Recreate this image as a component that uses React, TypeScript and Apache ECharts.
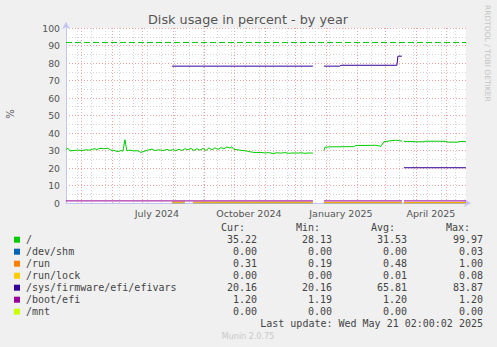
import React, { useEffect, useRef } from 'react';
import * as echarts from 'echarts';

const TITLE = 'Disk usage in percent - by year';
const Y_TITLE = '%';
const SIDE_TEXT = 'RRDTOOL / TOBI OETIKER';
const FOOTER = 'Munin 2.0.75';
const LAST_UPDATE = 'Last update: Wed May 21 02:00:02 2025';

const X_START = '2024-04-16T02:00:00Z';
const X_END = '2025-05-21T02:00:00Z';
const Y_MIN = 0;
const Y_MAX = 100;
const Y_STEP = 10;
const WARNING_LEVEL = 92;

const xLabelDates = ['2024-07-16', '2024-10-16', '2025-01-16', '2025-04-16'];
const xLabelTexts = ['July 2024', 'October 2024', 'January 2025', 'April 2025'];

const monthGridDates = [
  '2024-05-01', '2024-06-01', '2024-07-01', '2024-08-01', '2024-09-01', '2024-10-01',
  '2024-11-01', '2024-12-01', '2025-01-01', '2025-02-01', '2025-03-01', '2025-04-01', '2025-05-01',
];
const weekGridDates = [
  '2024-04-27', '2024-05-11', '2024-05-25', '2024-06-08', '2024-06-22', '2024-07-06', '2024-07-20',
  '2024-08-03', '2024-08-17', '2024-08-31', '2024-09-14', '2024-09-28', '2024-10-12', '2024-10-26',
  '2024-11-09', '2024-11-23', '2024-12-07', '2024-12-21', '2025-01-04', '2025-01-18', '2025-02-01',
  '2025-02-15', '2025-03-01', '2025-03-15', '2025-03-29', '2025-04-12', '2025-04-26', '2025-05-10',
];

type Pt = [string, number | null];

const rootData: Pt[] = [
  ['2024-04-16', 30.5], ['2024-04-18', 31.3], ['2024-04-20', 29.8], ['2024-04-24', 30.0],
  ['2024-04-28', 30.2], ['2024-05-02', 30.0], ['2024-05-06', 30.4], ['2024-05-10', 30.2],
  ['2024-05-14', 31.0], ['2024-05-17', 30.6], ['2024-05-20', 31.2], ['2024-05-24', 31.0],
  ['2024-05-28', 31.3], ['2024-05-31', 30.2], ['2024-06-03', 30.0], ['2024-06-07', 29.4],
  ['2024-06-10', 30.0], ['2024-06-12', 29.6], ['2024-06-14', 36.2], ['2024-06-16', 29.8],
  ['2024-06-18', 30.2], ['2024-06-23', 29.8], ['2024-06-27', 29.8], ['2024-06-30', 28.9],
  ['2024-07-03', 29.5], ['2024-07-07', 30.2], ['2024-07-11', 30.8], ['2024-07-14', 30.0],
  ['2024-07-18', 30.4], ['2024-07-22', 30.0], ['2024-07-26', 30.6], ['2024-07-29', 30.0],
  ['2024-08-01', 30.5], ['2024-08-04', 30.0], ['2024-08-07', 30.7], ['2024-08-10', 30.0],
  ['2024-08-13', 31.0], ['2024-08-16', 30.4], ['2024-08-19', 31.2], ['2024-08-22', 30.0],
  ['2024-08-25', 31.0], ['2024-08-28', 30.2], ['2024-08-31', 31.2], ['2024-09-03', 30.0],
  ['2024-09-06', 31.4], ['2024-09-09', 30.4], ['2024-09-12', 31.5], ['2024-09-15', 30.6],
  ['2024-09-18', 31.6], ['2024-09-21', 31.0], ['2024-09-24', 32.0], ['2024-09-27', 31.4],
  ['2024-09-29', 32.1], ['2024-10-01', 30.6], ['2024-10-05', 30.4], ['2024-10-09', 30.0],
  ['2024-10-13', 29.8], ['2024-10-16', 29.4], ['2024-10-20', 29.0], ['2024-10-24', 28.8],
  ['2024-10-28', 28.9], ['2024-11-01', 28.6], ['2024-11-05', 28.8], ['2024-11-09', 28.3],
  ['2024-11-13', 28.7], ['2024-11-17', 28.5], ['2024-11-21', 28.8], ['2024-11-25', 28.4],
  ['2024-11-29', 28.6], ['2024-12-03', 28.5], ['2024-12-07', 28.7], ['2024-12-11', 28.4],
  ['2024-12-15', 28.6], ['2024-12-19', 28.5], ['2024-12-22', null],
  ['2024-12-30', 30.0], ['2024-12-31', 31.8], ['2025-01-05', 32.1], ['2025-01-13', 32.1],
  ['2025-01-21', 32.2], ['2025-01-29', 32.2], ['2025-01-31', 32.9], ['2025-02-10', 32.9],
  ['2025-02-20', 33.0], ['2025-02-25', 32.4], ['2025-02-28', 35.0], ['2025-03-06', 35.5],
  ['2025-03-12', 35.9], ['2025-03-16', 35.5], ['2025-03-18', 35.4], ['2025-03-19', null],
  ['2025-03-20', 35.2], ['2025-03-27', 35.2], ['2025-04-01', 35.0], ['2025-04-09', 35.0],
  ['2025-04-11', 35.3], ['2025-04-21', 35.3], ['2025-05-01', 35.2], ['2025-05-03', 34.8],
  ['2025-05-13', 34.8], ['2025-05-15', 35.2], ['2025-05-21', 35.2],
];

const devShmData: Pt[] = [
  ['2024-07-31', 0], ['2024-08-13', 0], ['2024-08-14', null], ['2024-08-21', 0],
  ['2024-12-19', 0], ['2024-12-22', null], ['2024-12-30', 0], ['2025-03-18', 0],
  ['2025-03-19', null], ['2025-03-20', 0], ['2025-05-21', 0],
];

const runData: Pt[] = [
  ['2024-07-31', 0.55], ['2024-08-13', 0.55], ['2024-08-14', null], ['2024-08-21', 0.5],
  ['2024-12-19', 0.5], ['2024-12-22', null], ['2024-12-30', 0.4], ['2025-03-18', 0.4],
  ['2025-03-19', null], ['2025-03-20', 0.31], ['2025-05-21', 0.31],
];

const runLockData: Pt[] = [
  ['2024-07-31', 0], ['2024-08-13', 0], ['2024-08-14', null], ['2024-08-21', 0],
  ['2024-12-19', 0], ['2024-12-22', null], ['2024-12-30', 0], ['2025-03-18', 0],
  ['2025-03-19', null], ['2025-03-20', 0], ['2025-05-21', 0],
];

const efivarsData: Pt[] = [
  ['2024-07-31', 78.2], ['2024-12-19', 78.2], ['2024-12-22', null],
  ['2024-12-30', 78.2], ['2025-01-15', 78.2], ['2025-01-16', 78.7], ['2025-03-13', 78.7],
  ['2025-03-14', 83.9], ['2025-03-18', 83.9], ['2025-03-19', null],
  ['2025-03-20', 20.16], ['2025-05-21', 20.16],
];

const bootEfiData: Pt[] = [
  ['2024-04-16', 1.2], ['2024-12-19', 1.2], ['2024-12-22', null],
  ['2024-12-30', 1.2], ['2025-03-18', 1.2], ['2025-03-19', null],
  ['2025-03-20', 1.2], ['2025-05-21', 1.2],
];

const mntData: Pt[] = [];

const legendNames = ['/', '/dev/shm', '/run', '/run/lock', '/sys/firmware/efi/efivars', '/boot/efi', '/mnt'];
const seriesColors = ['#00CC00', '#0066B3', '#FF8000', '#FFCC00', '#330099', '#990099', '#CCFF00'];
const seriesData = [rootData, devShmData, runData, runLockData, efivarsData, bootEfiData, mntData];
const curVals = ['35.22', '0.00', '0.31', '0.00', '20.16', '1.20', '0.00'];
const minVals = ['28.13', '0.00', '0.19', '0.00', '20.16', '1.19', '0.00'];
const avgVals = ['31.53', '0.00', '0.48', '0.01', '65.81', '1.20', '0.00'];
const maxVals = ['99.97', '0.03', '1.00', '0.08', '83.87', '1.20', '0.00'];
const statHeaders = ['Cur:', 'Min:', 'Avg:', 'Max:'];

const ts = (d: string) => Date.parse(d);

export default function App() {
  const ref = useRef<HTMLDivElement>(null);

  useEffect(() => {
    if (!ref.current) return;
    const chart = echarts.init(ref.current, undefined, { renderer: 'svg' });
    const labelTs = xLabelDates.map(ts);
    const mono = 'DejaVu Sans Mono';
    const sans = 'DejaVu Sans';
    const textColor = '#444';

    const lineSeries: any[] = seriesData.map((data, i) => ({
      type: 'line',
      name: legendNames[i],
      data: data.map(([d, v]) => [ts(d), v]),
      showSymbol: false,
      symbol: 'none',
      silent: true,
      z: 10 + i,
      connectNulls: false,
      lineStyle: { color: seriesColors[i], width: 1 },
      itemStyle: { color: seriesColors[i] },
      markLine: i === 0 ? {
        silent: true,
        symbol: ['none', 'none'],
        label: { show: false },
        lineStyle: { color: seriesColors[0], width: 1, type: [6, 3] },
        data: [{ yAxis: WARNING_LEVEL }],
      } : undefined,
    }));

    const gridSeries = (dates: string[], color: string, z: number) => ({
      type: 'line',
      data: [],
      silent: true,
      z,
      markLine: {
        silent: true,
        symbol: ['none', 'none'],
        label: { show: false },
        lineStyle: { color, width: 1, type: [1, 2] },
        data: dates.map((d) => ({ xAxis: ts(d) })),
      },
    });

    const legendGraphics: any[] = [];
    const statX = [257, 332, 407, 483];
    const headerX = [245, 320, 395, 470];
    statHeaders.forEach((h, j) => {
      legendGraphics.push({
        type: 'text', x: headerX[j], y: 227,
        style: { text: h, font: `10px "${mono}"`, fill: textColor, align: 'right', verticalAlign: 'middle' },
      });
    });
    legendNames.forEach((name, i) => {
      const y = 239.7 + i * 12;
      legendGraphics.push({
        type: 'rect', shape: { x: 14, y: y - 3, width: 6, height: 6 },
        style: { fill: seriesColors[i] },
      });
      legendGraphics.push({
        type: 'text', x: 26, y,
        style: { text: name, font: `10px "${mono}"`, fill: textColor, align: 'left', verticalAlign: 'middle' },
      });
      [curVals, minVals, avgVals, maxVals].forEach((arr, j) => {
        legendGraphics.push({
          type: 'text', x: statX[j], y,
          style: { text: arr[i], font: `10px "${mono}"`, fill: textColor, align: 'right', verticalAlign: 'middle' },
        });
      });
    });

    const option: any = {
      animation: false,
      backgroundColor: '#f0f0f0',
      grid: {
        left: 66, right: 31, top: 28, bottom: 144,
        show: true, backgroundColor: '#ffffff', borderWidth: 0,
      },
      xAxis: {
        type: 'value',
        min: ts(X_START),
        max: ts(X_END),
        axisLine: {
          show: true,
          lineStyle: { color: '#c4c4f0', width: 1 },
          symbol: ['none', 'arrow'],
          symbolSize: [6, 7],
          symbolOffset: [0, 5],
        },
        axisTick: { show: false },
        splitLine: { show: false },
        axisLabel: {
          customValues: labelTs,
          formatter: (v: number) => {
            const i = labelTs.indexOf(v);
            return i >= 0 ? xLabelTexts[i] : '';
          },
          fontFamily: sans,
          fontSize: 9.5,
          color: '#555',
          margin: 5,
        },
      },
      yAxis: {
        type: 'value',
        min: Y_MIN,
        max: Y_MAX,
        interval: Y_STEP,
        axisLine: {
          show: true,
          lineStyle: { color: '#c4c4f0', width: 1 },
          symbol: ['none', 'arrow'],
          symbolSize: [6, 7],
          symbolOffset: [0, 6],
        },
        axisTick: { show: false },
        axisLabel: { fontFamily: sans, fontSize: 9.3, color: '#555', margin: 6 },
        splitLine: { show: true, lineStyle: { color: '#eaa4a4', width: 1, type: [1, 2] } },
        minorTick: { show: false, splitNumber: 2 },
        minorSplitLine: { show: true, lineStyle: { color: '#d4d4d4', width: 1, type: [1, 2] } },
      },
      series: [
        gridSeries(weekGridDates, '#d4d4d4', 1),
        gridSeries(monthGridDates, '#eaa4a4', 2),
        ...lineSeries,
      ],
      graphic: [
        {
          type: 'text', x: 248, y: 19,
          style: { text: TITLE, font: `12.8px "${sans}"`, fill: '#555', align: 'center', verticalAlign: 'middle' },
        },
        {
          type: 'text', x: 10, y: 114, rotation: Math.PI / 2,
          style: { text: Y_TITLE, font: `10px "${sans}"`, fill: '#555', align: 'center', verticalAlign: 'middle' },
        },
        {
          type: 'text', x: 487, y: 5, rotation: -Math.PI / 2,
          style: { text: SIDE_TEXT, font: `7.5px "${sans}"`, fill: '#c4c4c4', align: 'left', verticalAlign: 'middle' },
        },
        ...legendGraphics,
        {
          type: 'text', x: 483, y: 323.7,
          style: { text: LAST_UPDATE, font: `10px "${mono}"`, fill: textColor, align: 'right', verticalAlign: 'middle' },
        },
        {
          type: 'text', x: 248, y: 336,
          style: { text: FOOTER, font: `8px "${sans}"`, fill: '#c8c8c8', align: 'center', verticalAlign: 'middle' },
        },
      ],
    };
    chart.setOption(option);
    return () => chart.dispose();
  }, []);

  return (
    <div
      ref={ref}
      style={{ position: 'fixed', left: 0, top: 0, width: 497, height: 347, background: '#f0f0f0' }}
    />
  );
}
